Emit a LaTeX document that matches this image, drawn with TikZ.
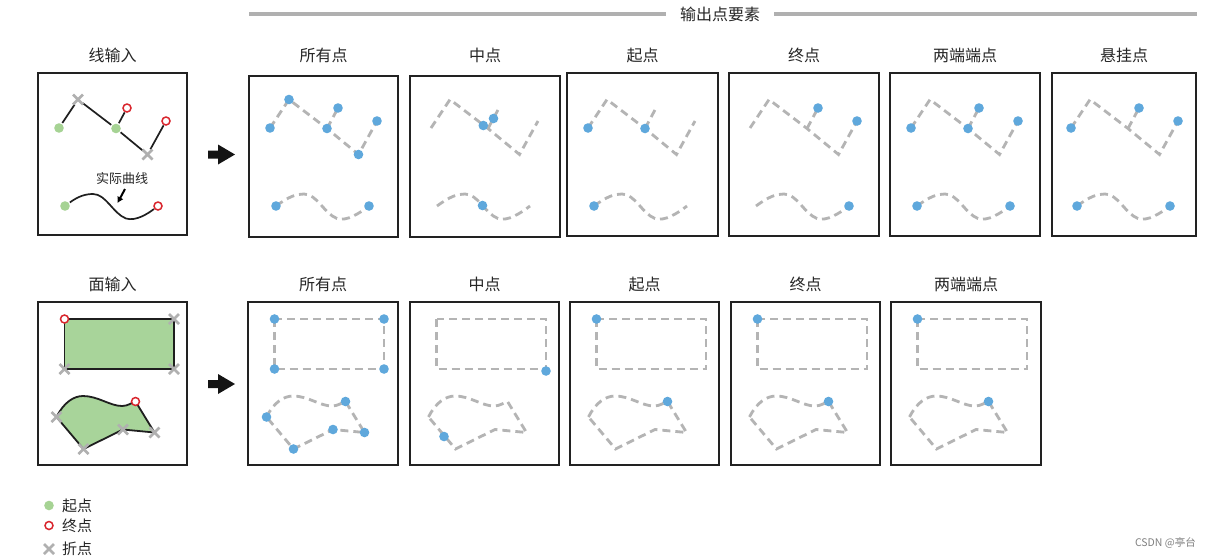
\documentclass[tikz,border=0pt]{standalone}
\usepackage{fontspec}
\setmainfont{Noto Sans CJK SC}
\usetikzlibrary{calc,arrows.meta}
\definecolor{lgray}{HTML}{B4B4B4}
\definecolor{xgray}{HTML}{B0B0B0}
\definecolor{bdotc}{HTML}{5FA8DC}
\definecolor{gdotc}{HTML}{A6D394}
\definecolor{gfill}{HTML}{A8D49A}
\definecolor{rc}{HTML}{D9262E}
\definecolor{boxc}{HTML}{222222}
\definecolor{hdr}{HTML}{B0B0B0}
\tikzset{
  boxst/.style={draw=boxc,line width=2.3pt},
  dln/.style={draw=lgray,line width=2.8pt,dash pattern=on 8pt off 5pt},
  sln/.style={draw=black!88,line width=1.7pt},
  ttl/.style={font=\fontsize{16}{18}\selectfont,text=black!85,inner sep=0pt},
  lgt/.style={font=\fontsize{15}{17}\selectfont,text=black!85,inner sep=0pt,anchor=west},
}
\newcommand\BDot[1]{\fill[bdotc] #1 circle[radius=4.8];}
\newcommand\GDot[1]{\fill[gdotc] #1 circle[radius=4.8];}
\newcommand\RCirc[1]{\draw[rc,line width=1.5pt,fill=white] #1 circle[radius=4];}
\newcommand\XMark[1]{\draw[xgray,line width=2.7pt] #1 ++(-5,-5) -- ++(10,10) ++(-10,0) -- ++(10,-10);}
\newcommand\LinePts{%
  \coordinate (A) at (21,55); \coordinate (B) at (40,26.5);
  \coordinate (C) at (78,55.5); \coordinate (D) at (89,35);
  \coordinate (E) at (109.5,81.5); \coordinate (F) at (128,48);
  \coordinate (P0) at (27,133); \coordinate (P1) at (120,133);}
\newcommand\CurvePath{(P0) .. controls (40,123.5) and (47,121) .. (55,121) .. controls (68,121) and (75,140.5) .. (88,145.5) .. controls (98,148.5) and (110,140.5) .. (P1)}
\newcommand\DashLines{\LinePts
  \draw[dln] (A) -- (B) -- (C) -- (E) -- (F);
  \draw[dln] (C) -- (D);
  \draw[dln] \CurvePath;}
\newcommand\PolyPts{%
  \coordinate (R1) at (26.5,17); \coordinate (R2) at (136,17);
  \coordinate (R3) at (136,67); \coordinate (R4) at (26.5,67);
  \coordinate (Q1) at (18.5,115); \coordinate (Q2) at (97.5,99.5);
  \coordinate (Q3) at (116.5,130.5); \coordinate (Q4) at (85,127.5);
  \coordinate (Q5) at (45.5,147);}
\newcommand\PolyPath{(Q1) .. controls (26,100) and (36,94) .. (45,94) .. controls (60,94) and (72,104) .. (84,104) .. controls (90,104) and (94,100.5) .. (Q2) -- (Q3) -- (Q4) -- (Q5) -- cycle}
\newcommand\DashPoly{\PolyPts
  \draw[dln] (R1) rectangle (R3);
  \draw[dln] \PolyPath;}
\begin{document}
\begin{tikzpicture}[x=1pt,y=-1pt]
\useasboundingbox (0,0) rectangle (1217,558);
\fill[white] (0,0) rectangle (1217,558);

% header
\node[ttl] (hd) at (720,14) {输出点要素};
\coordinate (hl1) at (249,14); \coordinate (hr2) at (1197,14);
\draw[hdr,line width=3.2pt] (hl1) -- ($(hd.west)+(-14,0)$);
\draw[hdr,line width=3.2pt] ($(hd.east)+(14,0)$) -- (hr2);

% titles row 1
\node[ttl] (t1) at (112.5,55) {线输入};
\node[ttl] (t2) at (323.5,55) {所有点};
\node[ttl] (t3) at (485,55) {中点};
\node[ttl] (t4) at (642.5,55) {起点};
\node[ttl] (t5) at (804,55) {终点};
\node[ttl] (t6) at (965,55) {两端端点};
\node[ttl] (t7) at (1124,55) {悬挂点};
% titles row 2
\node[ttl] (u1) at (112.5,284) {面输入};
\node[ttl] (u2) at (323,284) {所有点};
\node[ttl] (u3) at (484.5,284) {中点};
\node[ttl] (u4) at (644.5,284) {起点};
\node[ttl] (u5) at (805.5,284) {终点};
\node[ttl] (u6) at (966,284) {两端端点};

% boxes row 1
\draw[boxst] (38,73) rectangle (187,235);
\draw[boxst] (249,76) rectangle (398,237);
\draw[boxst] (410,76) rectangle (560,237);
\draw[boxst] (567,73) rectangle (718,236);
\draw[boxst] (729,73) rectangle (879,236);
\draw[boxst] (890,73) rectangle (1040,236);
\draw[boxst] (1052,73) rectangle (1196,236);
% boxes row 2
\draw[boxst] (38,302) rectangle (187,465);
\draw[boxst] (248,302) rectangle (398,465);
\draw[boxst] (410,302) rectangle (559,465);
\draw[boxst] (570,302) rectangle (719,465);
\draw[boxst] (731,302) rectangle (880,465);
\draw[boxst] (891,302) rectangle (1041,465);

% arrows
\fill[black!92] (208,150.5) -- (218,150.5) -- (218,144.5) -- (235,154.5) -- (218,164.5) -- (218,158.5) -- (208,158.5) -- cycle;
\fill[black!92] (208,380) -- (218,380) -- (218,374) -- (235,384) -- (218,394) -- (218,388) -- (208,388) -- cycle;

% ---- line input
\begin{scope}[shift={(38,73)}]
  \LinePts
  \draw[sln,shorten <=6pt,shorten >=6pt] (A) -- (B);
  \draw[sln,shorten <=6pt,shorten >=6pt] (B) -- (C);
  \draw[sln,shorten <=6pt,shorten >=5pt] (C) -- (D);
  \draw[sln,shorten <=6pt,shorten >=6pt] (C) -- (E);
  \draw[sln,shorten <=6pt,shorten >=5pt] (E) -- (F);
  \draw[sln,shorten <=6pt,shorten >=5pt] \CurvePath;
  \GDot{(A)} \GDot{(C)} \RCirc{(D)} \RCirc{(F)} \XMark{(B)} \XMark{(E)}
  \GDot{(P0)} \RCirc{(P1)}
  \node[font=\fontsize{13}{15}\selectfont,text=black!85,inner sep=0pt] (lbl) at (84,106) {实际曲线};
  \coordinate (la1) at (87,116); \coordinate (la2) at (79.5,130);
  \draw[black,line width=2pt,-{Latex[length=6pt,width=7pt]}] (la1) -- (la2);
\end{scope}

% ---- line outputs
\begin{scope}[shift={(249,73)}]
  \DashLines
  \BDot{(A)} \BDot{(B)} \BDot{(C)} \BDot{(D)} \BDot{(E)} \BDot{(F)} \BDot{(P0)} \BDot{(P1)}
\end{scope}
\begin{scope}[shift={(410,73)}]
  \DashLines
  \BDot{(73.3,52.5)} \BDot{(83.5,45.5)} \BDot{(72.5,132.5)}
\end{scope}
\begin{scope}[shift={(567,73)}]
  \DashLines
  \BDot{(A)} \BDot{(C)} \BDot{(P0)}
\end{scope}
\begin{scope}[shift={(729,73)}]
  \DashLines
  \BDot{(D)} \BDot{(F)} \BDot{(P1)}
\end{scope}
\begin{scope}[shift={(890,73)}]
  \DashLines
  \BDot{(A)} \BDot{(C)} \BDot{(D)} \BDot{(F)} \BDot{(P0)} \BDot{(P1)}
\end{scope}
\begin{scope}[shift={(1050,73)}]
  \DashLines
  \BDot{(A)} \BDot{(D)} \BDot{(F)} \BDot{(P0)} \BDot{(P1)}
\end{scope}

% ---- polygon input
\begin{scope}[shift={(38,302)}]
  \PolyPts
  \filldraw[fill=gfill,draw=black!88,line width=1.8pt] (R1) rectangle (R3);
  \filldraw[fill=gfill,draw=black!88,line width=1.8pt] \PolyPath;
  \RCirc{(R1)} \XMark{(R2)} \XMark{(R3)} \XMark{(R4)}
  \RCirc{(Q2)} \XMark{(Q1)} \XMark{(Q3)} \XMark{(Q4)} \XMark{(Q5)}
\end{scope}

% ---- polygon outputs
\begin{scope}[shift={(248,302)}]
  \DashPoly
  \BDot{(R1)} \BDot{(R2)} \BDot{(R3)} \BDot{(R4)}
  \BDot{(Q1)} \BDot{(Q2)} \BDot{(Q3)} \BDot{(Q4)} \BDot{(Q5)}
\end{scope}
\begin{scope}[shift={(410,302)}]
  \DashPoly
  \BDot{(136,69)} \BDot{(34,134.5)}
\end{scope}
\begin{scope}[shift={(570,302)}]
  \DashPoly
  \BDot{(R1)} \BDot{(Q2)}
\end{scope}
\begin{scope}[shift={(731,302)}]
  \DashPoly
  \BDot{(R1)} \BDot{(Q2)}
\end{scope}
\begin{scope}[shift={(891,302)}]
  \DashPoly
  \BDot{(R1)} \BDot{(Q2)}
\end{scope}

% ---- legend
\GDot{(49,505.5)}
\RCirc{(49,525.5)}
\XMark{(49,549)}
\node[lgt] (lg1) at (62,505.5) {起点};
\node[lgt] (lg2) at (62,526) {终点};
\node[lgt] (lg3) at (62,549) {折点};

% watermark
\node[font=\fontsize{10.5}{12}\selectfont,text=black!50,inner sep=0pt,anchor=east] (wm) at (1196,543) {CSDN @亭台};
\end{tikzpicture}
\end{document}
